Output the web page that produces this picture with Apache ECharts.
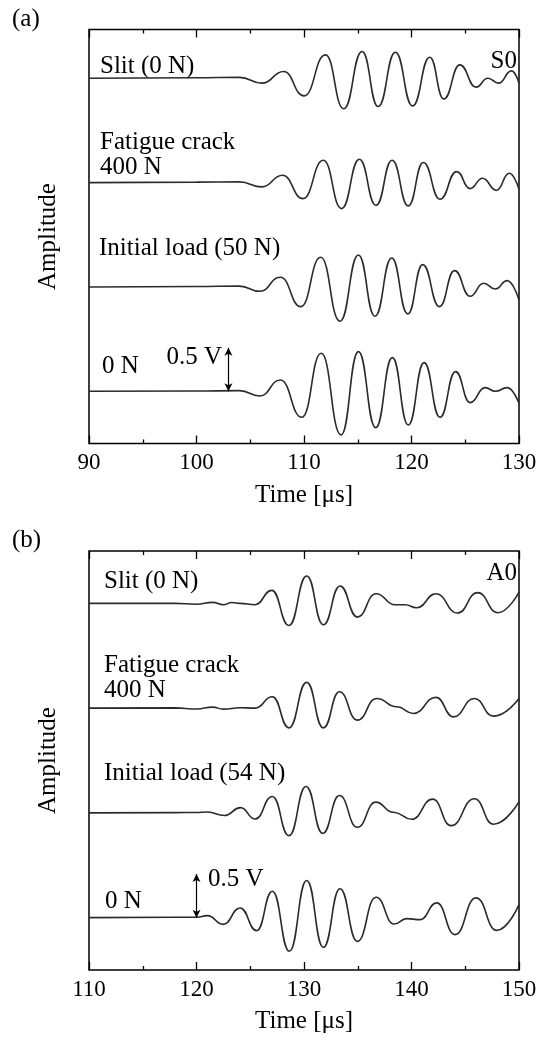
<!DOCTYPE html>
<html><head><meta charset="utf-8">
<script src="https://cdn.jsdelivr.net/npm/echarts@6/dist/echarts.min.js"></script>
<style>html,body{margin:0;padding:0;background:#fff}#c{width:545px;height:1038px}</style>
</head><body><div id="c"></div><script>
// ---------- data: [time µs, amplitude V] ----------
const timeRangeA = [90, 130];
const timeRangeB = [110, 150];
const traceOffsets = [3.6, 2.4, 1.2, 0];   // vertical separation of the four traces (V)

// (a) S0 mode
const s0Slit = [[90,0],[100,0.005],[104,0.01],[106.1,-0.057],[108.1,0.077],[110.0,-0.203],[112.0,0.268],[113.7,-0.352],[115.4,0.307],[116.9,-0.326],[118.5,0.299],[120.1,-0.318],[121.7,0.241],[123.0,-0.238],[124.5,0.153],[126.0,-0.103],[127.1,0.0],[128.1,-0.057],[129.3,0.084],[130,-0.057]];
const s0Fatigue = [[90,0],[100,0.005],[104,0.008],[106.1,-0.05],[108.0,0.084],[109.9,-0.184],[111.8,0.257],[113.5,-0.299],[115.15,0.268],[116.7,-0.261],[118.2,0.257],[119.7,-0.268],[121.1,0.23],[122.65,-0.192],[124.2,0.126],[125.45,-0.069],[126.6,0.05],[127.9,-0.088],[129.1,0.107],[130,-0.077]];
const s0Initial = [[90,0],[100,0.005],[104,0.01],[105.9,-0.05],[107.8,0.111],[109.7,-0.226],[111.55,0.341],[113.35,-0.395],[115.06,0.368],[116.6,-0.337],[118.16,0.333],[119.65,-0.31],[121.04,0.257],[122.6,-0.226],[124.0,0.188],[125.45,-0.107],[126.7,0.042],[127.8,-0.023],[128.9,0.073],[130,-0.149]];
const s0Zero = [[90,0],[100,0.003],[104,0.008],[105.9,-0.054],[107.8,0.13],[109.8,-0.299],[111.6,0.437],[113.45,-0.502],[115.06,0.456],[116.67,-0.418],[118.22,0.387],[119.7,-0.387],[121.17,0.33],[122.65,-0.299],[124.1,0.226],[125.45,-0.13],[126.85,0.042],[127.8,0.0],[128.9,0.042],[130,-0.138]];

// (b) A0 mode
const a0Slit = [[110,0],[118,0],[120,-0.01],[121.5,0.012],[122.5,-0.015],[123.3,0.01],[124.05,0],[125.45,-0.015],[127.0,0.149],[128.6,-0.253],[130.25,0.314],[131.8,-0.245],[133.35,0.199],[134.96,-0.157],[136.7,0.111],[138.47,-0.015],[139.4,-0.015],[140.48,-0.05],[142.28,0.111],[144.27,-0.111],[146.16,0.123],[148.02,-0.107],[150,0.13]];
const a0Fatigue = [[110,0],[118,0.003],[120,-0.01],[121.5,0.012],[122.5,-0.012],[124.05,0.005],[125.45,0],[127.06,0.13],[128.6,-0.226],[130.25,0.295],[131.8,-0.226],[133.29,0.188],[134.96,-0.138],[136.76,0.111],[138.62,0.015],[140.17,-0.061],[142.28,0.123],[143.9,-0.1],[145.85,0.111],[147.62,-0.092],[150,0.111]];
const a0Initial = [[110,0],[118,0.003],[120,0.005],[121,0.01],[122.6,-0.03],[124.1,0.06],[125.45,-0.07],[127.06,0.188],[128.6,-0.261],[130.19,0.303],[131.74,-0.234],[133.29,0.199],[134.96,-0.165],[136.67,0.123],[138.31,0.008],[140.02,-0.073],[141.97,0.157],[143.68,-0.146],[145.85,0.161],[147.62,-0.13],[150,0.13]];
const a0Zero = [[110,0],[118,0.005],[120,0.005],[121,0.023],[122.5,-0.077],[124.05,0.111],[125.6,-0.149],[127.06,0.303],[128.64,-0.385],[130.25,0.425],[131.8,-0.341],[133.35,0.33],[134.96,-0.272],[136.7,0.234],[138.38,-0.073],[139.55,-0.011],[140.8,-0.023],[142.34,0.169],[144.05,-0.195],[146.0,0.226],[147.93,-0.146],[150,0.149]];

const scaleBar = 0.5;          // 0.5 V scale arrow
const scaleBarTimeA = 102.97;
const scaleBarTimeB = 120.0;

// ---------- chart ----------
const FONT = "'Liberation Serif','Times New Roman',serif";
const LINE = '#2b2b2b';
const chart = echarts.init(document.getElementById('c'), null, {renderer: 'canvas'});

function xAxisPair(grid, range) {
  const common = {
    type: 'value', gridIndex: grid, min: range[0], max: range[1], interval: 10,
    axisLine: {show: false, onZero: false}, splitLine: {show: false},
    axisTick: {show: true, inside: true, length: 8, lineStyle: {color: '#000', width: 1.3}},
    minorTick: {show: true, splitNumber: 2, length: 4, lineStyle: {color: '#000', width: 1.3}}
  };
  return [
    Object.assign({}, common, {position: 'bottom',
      axisLabel: {show: true, margin: 8, fontSize: 23, fontFamily: FONT, color: '#000'},
      name: 'Time [\u03bcs]', nameLocation: 'middle', nameGap: 39,
      nameTextStyle: {fontSize: 25, fontFamily: FONT, color: '#000'}}),
    Object.assign({}, common, {position: 'top', axisLabel: {show: false}})
  ];
}
function yAxis(grid, min, max) {
  return {
    type: 'value', gridIndex: grid, min: min, max: max,
    axisLine: {show: false, onZero: false}, axisTick: {show: false}, axisLabel: {show: false}, splitLine: {show: false},
    name: 'Amplitude', nameLocation: 'middle', nameRotate: 90, nameGap: 28,
    nameTextStyle: {fontSize: 25, fontFamily: FONT, color: '#000'}
  };
}
function traces(list, xi, yi, barTime) {
  return list.map((d, i) => {
    const s = {
      type: 'line', xAxisIndex: xi, yAxisIndex: yi, smooth: 0.5, smoothMonotone: 'x',
      showSymbol: false, silent: true,
      lineStyle: {color: LINE, width: 1.6},
      data: d.map(p => [p[0], p[1] + traceOffsets[i]])
    };
    if (i === list.length - 1) {
      s.markLine = {
        silent: true, symbol: ['arrow', 'arrow'], symbolSize: [6, 8], label: {show: false},
        lineStyle: {color: '#000', width: 1.2, type: 'solid'},
        data: [[{coord: [barTime, traceOffsets[i]]}, {coord: [barTime, traceOffsets[i] + scaleBar]}]]
      };
    }
    return s;
  });
}
function txt(x, y, t, align, size) {
  return {type: 'text', x: x, y: y, style: {text: t, font: (size || 25) + 'px ' + FONT, fill: '#000',
    align: align || 'left', verticalAlign: 'middle'}};
}

chart.setOption({
  animation: false,
  backgroundColor: '#fff',
  grid: [
    {left: 89, right: 26, top: 29.5, height: 414, show: true, borderColor: '#000', borderWidth: 1.5, backgroundColor: 'transparent'},
    {left: 89, right: 26, top: 551, height: 419, show: true, borderColor: '#000', borderWidth: 1.5, backgroundColor: 'transparent'}
  ],
  xAxis: [].concat(xAxisPair(0, timeRangeA), xAxisPair(1, timeRangeB)),
  yAxis: [yAxis(0, -0.6, 4.16), yAxis(1, -0.6, 4.2)],
  series: [].concat(
    traces([s0Slit, s0Fatigue, s0Initial, s0Zero], 0, 0, scaleBarTimeA),
    traces([a0Slit, a0Fatigue, a0Initial, a0Zero], 2, 1, scaleBarTimeB)
  ),
  graphic: [
    txt(12, 19, '(a)'),
    txt(517, 61, 'S0', 'right'),
    txt(100, 66, 'Slit (0 N)'),
    txt(100, 142, 'Fatigue crack'),
    txt(100, 167, '400 N'),
    txt(99, 248, 'Initial load (50 N)'),
    txt(102, 366, '0 N'),
    txt(222, 357, '0.5 V', 'right'),
    txt(12, 540, '(b)'),
    txt(517, 573, 'A0', 'right'),
    txt(104, 581, 'Slit (0 N)'),
    txt(104, 665, 'Fatigue crack'),
    txt(104, 690, '400 N'),
    txt(104, 773, 'Initial load (54 N)'),
    txt(105, 901, '0 N'),
    txt(208, 879, '0.5 V')
  ]
});
</script></body></html>
